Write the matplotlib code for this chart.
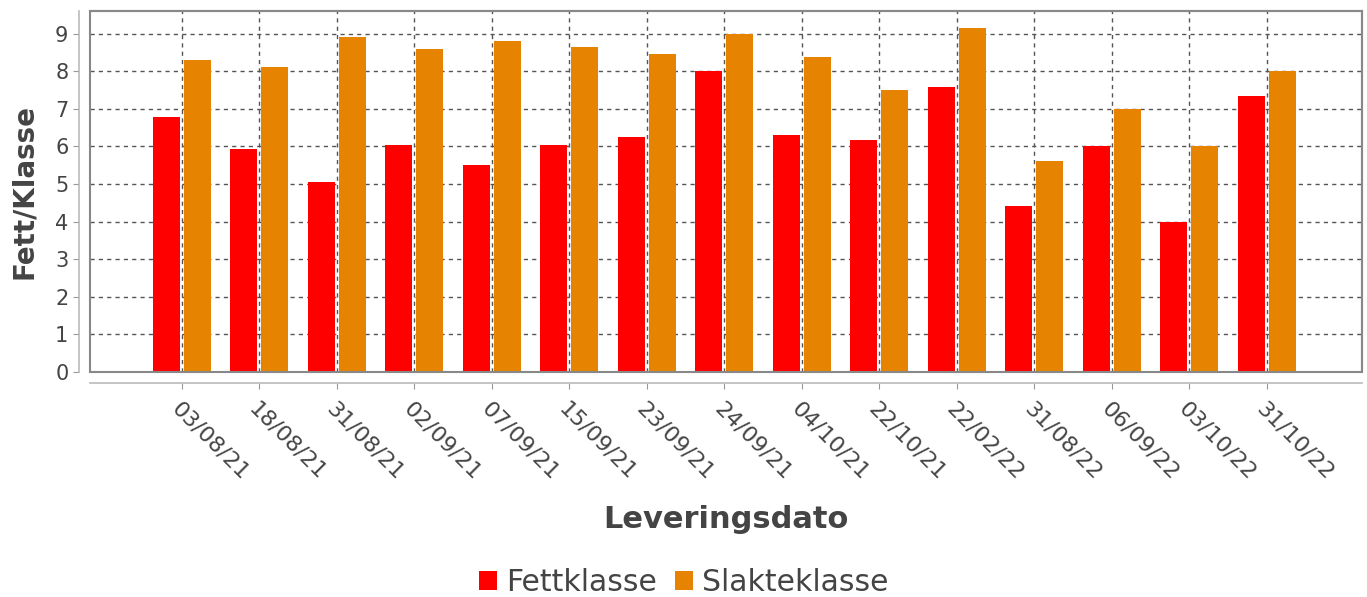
import matplotlib.pyplot as plt
import numpy as np
from matplotlib.patches import Rectangle

dates = ['03/08/21', '18/08/21', '31/08/21', '02/09/21', '07/09/21', '15/09/21',
         '23/09/21', '24/09/21', '04/10/21', '22/10/21', '22/02/22', '31/08/22',
         '06/09/22', '03/10/22', '31/10/22']
fettklasse = [6.78, 5.93, 5.05, 6.04, 5.5, 6.04, 6.25, 8.0, 6.3, 6.17, 7.58, 4.41, 6.0, 4.0, 7.34]
slakteklasse = [8.3, 8.1, 8.9, 8.6, 8.8, 8.63, 8.45, 9.0, 8.38, 7.5, 9.15, 5.6, 7.0, 6.0, 8.0]

red = '#FF0000'
orange = '#E68300'
txt = '#444444'

fig = plt.figure(figsize=(13.67, 5.97), dpi=100)
ax = fig.add_axes([0.0658, 0.3769, 0.9305, 0.6047])

x = np.arange(len(dates))
ax.bar(x - 0.2, fettklasse, width=0.35, color=red, label='Fettklasse', zorder=3)
ax.bar(x + 0.2, slakteklasse, width=0.35, color=orange, label='Slakteklasse', zorder=3)

ax.set_xlim(-1.187, 15.23)
ax.set_ylim(0, 9.6)
ax.set_yticks(range(10))
ax.set_xticks(x, dates)

ax.grid(True, color='#555555', linestyle=(0, (3, 3)), linewidth=1, zorder=0)
ax.set_axisbelow(True)

# axis lines sit a little away from the plot border
for side in ['left', 'bottom']:
    ax.spines[side].set_position(('outward', 8))
    ax.spines[side].set_color('#bbbbbb')
    ax.spines[side].set_linewidth(1.2)
for side in ['top', 'right']:
    ax.spines[side].set_color('#888888')
    ax.spines[side].set_linewidth(1.5)
ax.add_patch(Rectangle((0, 0), 1, 1, transform=ax.transAxes, fill=False,
                       edgecolor='#888888', linewidth=1.5, zorder=5, clip_on=False))

ax.tick_params(axis='both', colors='#999999', labelcolor=txt, labelsize=15, length=4)
ax.tick_params(axis='x', pad=7, labelsize=16)
plt.setp(ax.get_xticklabels(), rotation=-45, ha='left', va='top', rotation_mode='anchor')

ax.set_ylabel('Fett/Klasse', fontsize=20, fontweight='bold', color=txt, labelpad=12)
ax.set_xlabel('Leveringsdato', fontsize=22, fontweight='bold', color=txt, labelpad=16)

fig.legend(loc='center', bbox_to_anchor=(0.5, 0.025), ncol=2, frameon=False,
           fontsize=21.5, handlelength=0.6, handleheight=0.6, handletextpad=0.3,
           columnspacing=0.6, labelcolor=txt)

fig.savefig('out.png', dpi=100)
